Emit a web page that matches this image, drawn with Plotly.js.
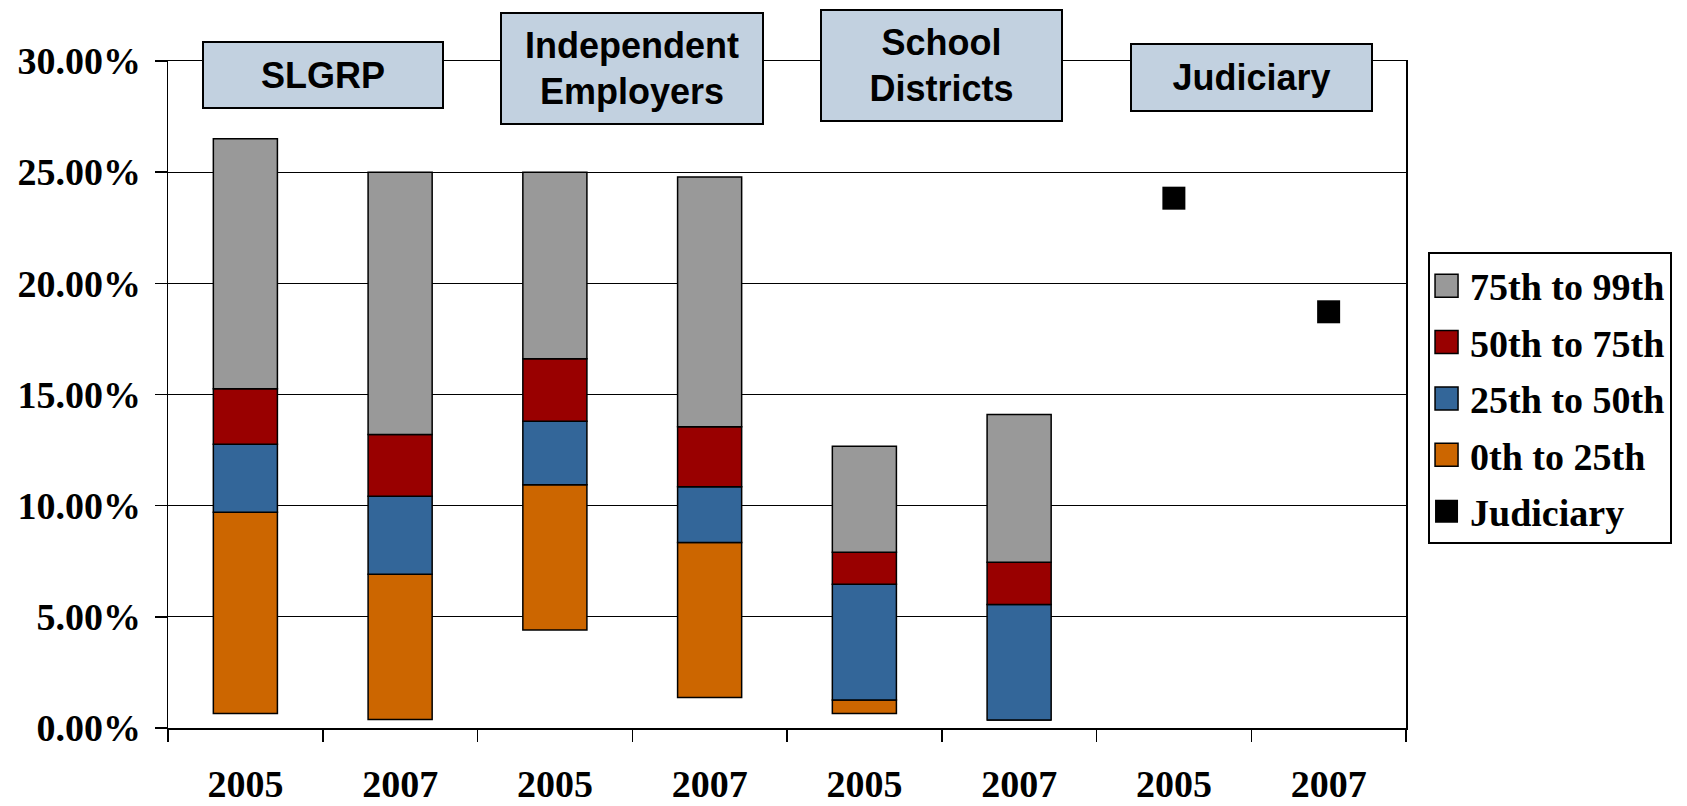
<!DOCTYPE html>
<html>
<head>
<meta charset="utf-8">
<script src="https://cdn.plot.ly/plotly-3.0.1.min.js"></script>
<style>
  html, body { margin: 0; padding: 0; background: #ffffff; }
  #chart { width: 1687px; height: 806px; }
</style>
</head>
<body>
<div id="chart"></div>
<script>
// Employer groups, each shown for two survey years
const groups = ['SLGRP', 'Independent<br>Employers', 'School<br>Districts', 'Judiciary'];
const years = ['2005', '2007', '2005', '2007', '2005', '2007', '2005', '2007'];

// Percentile boundaries (percent) for each group/year column
const p0  = [0.65, 0.38, 4.41, 1.37, 0.65, 0.36, null, null];
const p25 = [9.70, 6.91, 10.94, 8.34, 1.26, 0.36, null, null];
const p50 = [12.76, 10.42, 13.80, 10.85, 6.47, 5.56, null, null];
const p75 = [15.26, 13.20, 16.61, 13.55, 7.90, 7.45, null, null];
const p99 = [26.50, 25.00, 25.00, 24.78, 12.67, 14.10, null, null];

// Judiciary single values
const judiciary = [null, null, null, null, null, null, 23.83, 18.72];

// Y axis ticks
const yTickVals = [0, 5, 10, 15, 20, 25, 30];
const yTickText = ['0.00%', '5.00%', '10.00%', '15.00%', '20.00%', '25.00%', '30.00%'];

const bandNames  = ['0th to 25th', '25th to 50th', '50th to 75th', '75th to 99th'];
const bandColors = ['#CC6600', '#336699', '#990000', '#999999'];

const xIdx = years.map((_, i) => i);
const bounds = [p0, p25, p50, p75, p99];

const traces = [];
for (let b = 0; b < 4; b++) {
  const lo = bounds[b], hi = bounds[b + 1];
  traces.push({
    type: 'bar',
    name: bandNames[b],
    x: xIdx,
    base: lo,
    y: hi.map((v, i) => (v === null ? null : v - lo[i])),
    width: 0.414,
    marker: { color: bandColors[b], line: { color: '#000000', width: 1.5 } },
    legendrank: 4 - b,
    legendgroup: 'g' + b,
    hoverinfo: 'skip'
  });
}
traces.push({
  type: 'scatter',
  mode: 'markers',
  name: 'Judiciary',
  x: xIdx,
  y: judiciary,
  marker: { symbol: 'square', size: 23, color: '#000000' },
  legendrank: 5,
  legendgroup: 'g4',
  cliponaxis: false,
  hoverinfo: 'skip'
});

const boxY = [29.36, 29.66, 29.78, 29.24];
const boxW = [238, 260, 239, 239];
const boxH = [64, 109, 109, 65];
const annotations = groups.map((g, k) => ({
  xref: 'x', yref: 'y',
  x: 2 * k + 0.5, y: boxY[k],
  xanchor: 'center', yanchor: 'middle',
  text: g,
  showarrow: false,
  align: 'center',
  width: boxW[k], height: boxH[k],
  bgcolor: '#C2D1E0',
  bordercolor: '#000000',
  borderwidth: 2,
  borderpad: 0,
  font: { family: 'Liberation Sans, Arial, sans-serif', size: 36, weight: 'bold', color: '#000000' }
}));

const serifBold = { family: 'Liberation Serif, Times New Roman, serif', size: 38, weight: 'bold', color: '#000000' };

const layout = {
  width: 1687,
  height: 806,
  margin: { l: 168, r: 281, t: 61, b: 78, pad: 0 },
  paper_bgcolor: '#ffffff',
  plot_bgcolor: '#ffffff',
  barmode: 'overlay',
  showlegend: true,
  legend: {
    x: 1.0178, xanchor: 'left',
    y: 0.713, yanchor: 'top',
    bordercolor: '#000000',
    borderwidth: 2,
    bgcolor: '#ffffff',
    font: serifBold,
    tracegroupgap: 4,
    itemsizing: 'trace'
  },
  xaxis: {
    range: [-0.5, 7.5],
    tickmode: 'array',
    tickvals: xIdx,
    ticktext: years,
    ticks: '',
    tickfont: serifBold,
    ticklabelstandoff: 22,
    showgrid: false,
    zeroline: false,
    showline: true,
    linecolor: '#000000',
    linewidth: 1.5,
    mirror: true,
    minor: {
      tickmode: 'array',
      tickvals: [-0.5, 0.5, 1.5, 2.5, 3.5, 4.5, 5.5, 6.5, 7.5],
      ticks: 'outside',
      ticklen: 12,
      tickwidth: 1.5,
      tickcolor: '#000000',
      showgrid: false
    }
  },
  yaxis: {
    range: [0, 30],
    tickmode: 'array',
    tickvals: yTickVals,
    ticktext: yTickText,
    ticks: 'outside',
    ticklen: 12,
    tickwidth: 1.5,
    tickcolor: '#000000',
    tickfont: serifBold,
    ticklabelstandoff: 6,
    showgrid: true,
    gridcolor: '#000000',
    gridwidth: 1.3,
    zeroline: false,
    showline: true,
    linecolor: '#000000',
    linewidth: 1.5,
    mirror: true
  },
  annotations: annotations
};

// Enlarge the legend swatches to 23px squares, placed a fixed distance before the label text
function enlargeLegendSwatches(gd) {
  const SWATCH = 23;
  const GAP_TO_TEXT = 23.5;
  gd.querySelectorAll('.legend .traces').forEach(tr => {
    const txt = tr.querySelector('text.legendtext');
    const textX = txt ? parseFloat(txt.getAttribute('x')) : 40;
    tr.querySelectorAll('.legendpoints path').forEach(p => {
      const bb = p.getBBox();
      if (!bb.width || !bb.height) return;
      const s = SWATCH / Math.max(bb.width, bb.height);
      const cx = bb.x + bb.width / 2, cy = bb.y + bb.height / 2;
      p.setAttribute('transform',
        `translate(${textX - GAP_TO_TEXT},0) scale(${s}) translate(${-cx},${-cy})`);
      p.setAttribute('vector-effect', 'non-scaling-stroke');
    });
  });
}

Plotly.newPlot('chart', traces, layout, { staticPlot: true }).then(enlargeLegendSwatches);
</script>
</body>
</html>
